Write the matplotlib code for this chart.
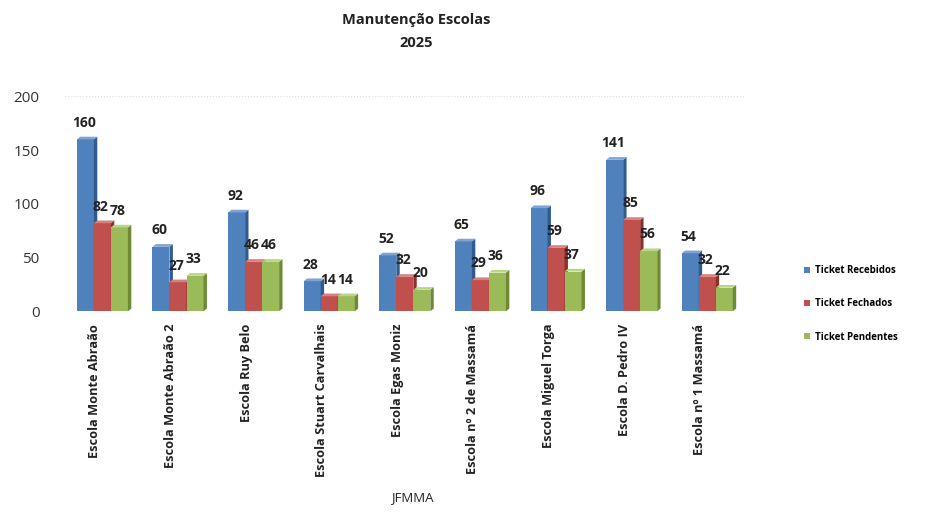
import matplotlib
matplotlib.use("Agg")
import matplotlib.pyplot as plt
from matplotlib.patches import Polygon
import numpy as np

plt.rcParams['font.family'] = ['Open Sans', 'DejaVu Sans']

# data
escolas = ["Escola Monte Abraão", "Escola Monte Abraão 2", "Escola Ruy Belo",
           "Escola Stuart Carvalhais", "Escola Egas Moniz", "Escola nº 2 de Massamá",
           "Escola Miguel Torga", "Escola D. Pedro IV", "Escola nº 1 Massamá"]
recebidos = [160, 60, 92, 28, 52, 65, 96, 141, 54]
fechados = [82, 27, 46, 14, 32, 29, 59, 85, 32]
pendentes = [78, 33, 46, 14, 20, 36, 37, 56, 22]
series_names = ["Ticket Recebidos", "Ticket Fechados", "Ticket Pendentes"]

colors = ["#4F81BD", "#C0504D", "#9BBB59"]
side_colors = ["#2F5B8F", "#8E2F2C", "#6E8A37"]
top_colors = ["#7FA3D3", "#D8807E", "#BCD48A"]

fig = plt.figure(figsize=(9.36, 5.24), dpi=100)
ax = fig.add_axes([0.069, 0.406, 0.727, 0.41])

x = np.arange(len(escolas))
w = 0.225
dx, dy = 0.045, 2.5  # fake depth for the 3D look

for i, vals in enumerate([recebidos, fechados, pendentes]):
    xs = x + (i - 1) * w
    bars = ax.bar(xs, vals, width=w, color=colors[i], edgecolor='none',
                  label=series_names[i], zorder=3)
    for b, v in zip(bars, vals):
        x0, x1 = b.get_x(), b.get_x() + b.get_width()
        ax.add_patch(Polygon([(x1, 0), (x1 + dx, dy), (x1 + dx, v + dy), (x1, v)],
                             closed=True, color=side_colors[i], zorder=3, lw=0))
        ax.add_patch(Polygon([(x0, v), (x0 + dx, v + dy), (x1 + dx, v + dy), (x1, v)],
                             closed=True, color=top_colors[i], zorder=3, lw=0))
        ax.text(b.get_x() + b.get_width() / 2 - 0.02, v + 9, str(v), ha='center',
                va='bottom', fontsize=10, fontweight='bold', color='#222222', zorder=4)

ax.set_xlim(-0.5, len(escolas) - 0.5)
ax.set_ylim(0, 200)
ax.set_yticks([0, 50, 100, 150, 200])
ax.tick_params(axis='y', length=0, labelsize=11, colors='#333333', pad=18)
ax.set_xticks(x - 0.1)
ax.set_xticklabels(escolas, rotation=90, fontsize=9.2, fontweight='bold', color='#222222')
ax.tick_params(axis='x', length=0, pad=9)
for s in ax.spines.values():
    s.set_visible(False)
ax.axhline(200, color='#DDDDDD', lw=0.8, ls=':', zorder=1)
ax.axhline(0, color='#CCCCCC', lw=0.8, ls=':', zorder=1)

fig.text(0.445, 0.94, "Manutenção Escolas\n2025", ha='center', va='center',
         fontsize=10.5, fontweight='bold', color='#222222', linespacing=1.8)
fig.text(0.44, 0.05, "JFMMA", ha='center', va='center', fontsize=9.5, color='#222222')

fig.legend(loc='center left', bbox_to_anchor=(0.85, 0.42), frameon=False,
           handlelength=0.6, handleheight=0.6, labelspacing=2.3,
           handletextpad=0.5, prop={'weight': 'bold', 'size': 7})

fig.savefig("out.png", dpi=100)
